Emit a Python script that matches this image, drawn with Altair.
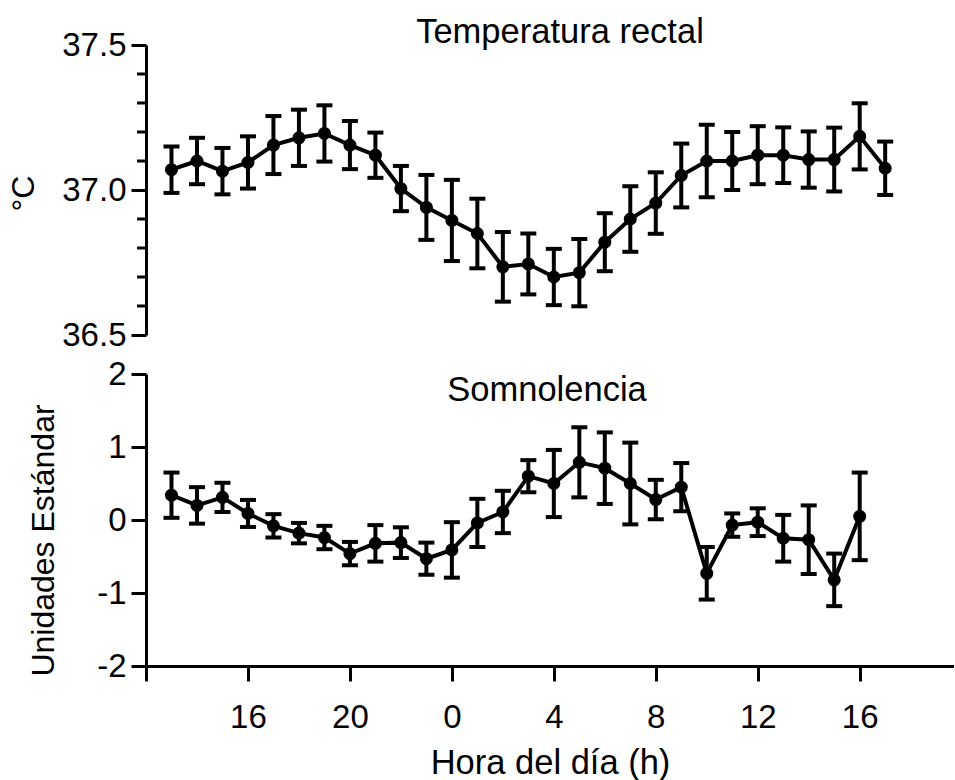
import altair as alt
import pandas as pd

# ---- data ----
temp_hours = list(range(13, 42))  # 13h .. 17h next day (continuous hour index)
temp_mean = [37.07, 37.10, 37.065, 37.095, 37.155, 37.18, 37.195, 37.155, 37.12,
             37.005, 36.94, 36.895, 36.85, 36.735, 36.745, 36.70, 36.715, 36.82,
             36.90, 36.955, 37.05, 37.10, 37.10, 37.12, 37.12, 37.105, 37.105,
             37.185, 37.075]
temp_err = [0.08, 0.08, 0.08, 0.09, 0.10, 0.097, 0.097, 0.083, 0.078,
            0.078, 0.112, 0.14, 0.12, 0.12, 0.105, 0.097, 0.116, 0.10,
            0.113, 0.106, 0.11, 0.125, 0.10, 0.10, 0.096, 0.097, 0.11,
            0.114, 0.092]

somn_hours = list(range(13, 41))
somn_mean = [0.34, 0.20, 0.31, 0.09, -0.08, -0.18, -0.24, -0.46, -0.32, -0.31,
             -0.53, -0.41, -0.04, 0.11, 0.60, 0.50, 0.79, 0.71, 0.50, 0.28,
             0.45, -0.73, -0.07, -0.03, -0.25, -0.27, -0.82, 0.05]
somn_err = [0.31, 0.25, 0.20, 0.185, 0.16, 0.14, 0.16, 0.16, 0.25, 0.21,
            0.22, 0.38, 0.33, 0.29, 0.22, 0.46, 0.48, 0.49, 0.56, 0.27,
            0.33, 0.36, 0.16, 0.19, 0.32, 0.47, 0.36, 0.60]

temp_major = [36.5, 37.0, 37.5]
temp_minor = [36.6, 36.7, 36.8, 36.9, 37.1, 37.2, 37.3, 37.4]
somn_ticks = [-2, -1, 0, 1, 2]
x_ticks = [12, 16, 20, 24, 28, 32, 36, 40]

FONT = "Liberation Sans"
W = 808
LABEL_FS = 33
TITLE_FS = 34.5

temp_df = pd.DataFrame({"h": temp_hours, "m": temp_mean, "e": temp_err})
temp_df["lo"] = temp_df["m"] - temp_df["e"]
temp_df["hi"] = temp_df["m"] + temp_df["e"]
somn_df = pd.DataFrame({"h": somn_hours, "m": somn_mean, "e": somn_err})
somn_df["lo"] = somn_df["m"] - somn_df["e"]
somn_df["hi"] = somn_df["m"] + somn_df["e"]

xscale = alt.Scale(domain=[12, 43.7], nice=False, zero=False)

x_axis_bottom = alt.Axis(
    values=x_ticks,
    labelExpr="datum.value == 12 ? '' : '' + (datum.value % 24)",
    tickSize=15, tickWidth=3, domainWidth=3, domainColor="black", tickColor="black",
    labelFontSize=LABEL_FS, labelFont=FONT, labelColor="black", labelPadding=20,
    title="Hora del día (h)", titleFontSize=TITLE_FS, titleFont=FONT, titleColor="black",
    titleFontWeight="normal", titlePadding=12, grid=False,
)

top_scale = alt.Scale(domain=[36.5, 37.5], nice=False, zero=False)
top_axis = alt.Axis(
    values=temp_major, format=".1f",
    tickSize=15, tickWidth=3, domainWidth=3, domainColor="black", tickColor="black",
    labelFontSize=LABEL_FS, labelFont=FONT, labelColor="black", labelPadding=5,
    title="°C", titleFontSize=32, titleFont=FONT, titleColor="black",
    titleFontWeight="normal", titleAngle=270, titleBaseline="alphabetic",
    titleX=-113, titleY=148, grid=False,
)
bot_scale = alt.Scale(domain=[-2, 2], nice=False, zero=False)
bot_axis = alt.Axis(
    values=somn_ticks, labelExpr="'' + datum.value",
    tickSize=15, tickWidth=3, domainWidth=3, domainColor="black", tickColor="black",
    labelFontSize=LABEL_FS, labelFont=FONT, labelColor="black", labelPadding=5,
    title="Unidades Estándar", titleFontSize=32, titleFont=FONT, titleColor="black",
    titleFontWeight="normal", titleAngle=270, titleBaseline="alphabetic",
    titleX=-93, titleY=166, grid=False,
)


def panel(df, scale, axis, xaxis, minor=None):
    base = alt.Chart(df)
    x = alt.X("h:Q", scale=xscale, axis=xaxis)
    err = base.mark_rule(color="black", strokeWidth=4, opacity=1).encode(
        x=x, y=alt.Y("lo:Q", scale=scale, axis=axis), y2="hi:Q")
    cap_lo = base.mark_tick(color="black", thickness=4, size=16, opacity=1,
                            orient="horizontal").encode(
        x=x, y=alt.Y("lo:Q", scale=scale, axis=axis))
    cap_hi = base.mark_tick(color="black", thickness=4, size=16, opacity=1,
                            orient="horizontal").encode(
        x=x, y=alt.Y("hi:Q", scale=scale, axis=axis))
    line = base.mark_line(color="black", strokeWidth=4).encode(
        x=x, y=alt.Y("m:Q", scale=scale, axis=axis))
    pts = base.mark_circle(color="black", size=170, opacity=1).encode(
        x=x, y=alt.Y("m:Q", scale=scale, axis=axis))
    layers = [err, cap_lo, cap_hi, line, pts]
    if minor is not None:
        mdf = pd.DataFrame({"v": minor})
        mt = alt.Chart(mdf).mark_rule(color="black", strokeWidth=3).encode(
            y=alt.Y("v:Q", scale=scale, axis=axis),
            x=alt.value(-9), x2=alt.value(0))
        layers.append(mt)
    return alt.layer(*layers)


top = panel(temp_df, top_scale, top_axis, None, minor=temp_minor).properties(
    width=W, height=290,
    title=alt.Title("Temperatura rectal", fontSize=TITLE_FS, font=FONT, fontWeight="normal",
                    color="black", anchor="middle", frame="group", offset=-21, dx=10),
)

somn_label = alt.Chart(pd.DataFrame({"t": ["Somnolencia"]})).mark_text(
    font=FONT, fontSize=TITLE_FS, color="black", baseline="top", align="center"
).encode(x=alt.value(401), y=alt.value(0), text="t:N")

bottom = alt.layer(
    panel(somn_df, bot_scale, bot_axis, x_axis_bottom), somn_label
).properties(width=W, height=292)

chart = (
    alt.vconcat(top, bottom, spacing=6)
    .properties(padding={"left": 7, "top": 14, "right": 0, "bottom": 0})
    .configure(background="white")
    .configure_view(strokeWidth=0, stroke=None)
)

chart.save("out.html", embed_options={"renderer": "svg", "actions": False})
